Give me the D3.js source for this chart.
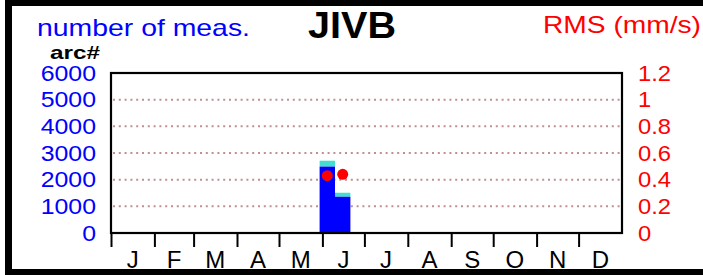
<!DOCTYPE html>
<html>
<head>
<meta charset="utf-8">
<script src="https://cdn.jsdelivr.net/npm/d3@7"></script>
<style>
    body { margin: 0; background: #fff; }
    svg { display: block; font-family: 'Liberation Sans', Arial, sans-serif; }
</style>
</head>
<body>
<svg id="chart" width="703" height="275"></svg>
<script>
    var months = ['J', 'F', 'M', 'A', 'M', 'J', 'J', 'A', 'S', 'O', 'N', 'D'];
    var binStarts = ['2001-05-30', '2001-06-10'];
    var binEnds = ['2001-06-10', '2001-06-21'];
    var usedCounts = [2490, 1360];
    var rejectedCounts = [220, 150];
    var rmsValues = [0.43, 0.44];
    var countTicks = [0, 1000, 2000, 3000, 4000, 5000, 6000];
    var rmsTicks = [0, 0.2, 0.4, 0.6, 0.8, 1, 1.2];
    var gridTicks = [1000, 2000, 3000, 4000, 5000];

    var margin = {left: 111, right: 622, top: 73, bottom: 233};
    var svg = d3.select('#chart');

    var x = d3.scaleUtc()
        .domain([new Date(Date.UTC(2001, 0, 1)), new Date(Date.UTC(2002, 0, 1))])
        .range([margin.left, margin.right]);
    var yCount = d3.scaleLinear().domain([0, 6000]).range([margin.bottom, margin.top]);
    var yRms = d3.scaleLinear().domain([0, 1.2]).range([margin.bottom, margin.top]);

    var bins = binStarts.map(function (s, i) {
        return {
            start: new Date(s + 'T00:00:00Z'),
            end: new Date(binEnds[i] + 'T00:00:00Z'),
            used: usedCounts[i],
            rejected: rejectedCounts[i],
            rms: rmsValues[i]
        };
    });

    // the original text is drawn a bit wider than Arial
    function stretch(sel, factor) {
        sel.each(function () {
            var w = this.getComputedTextLength();
            d3.select(this).attr('textLength', w * factor).attr('lengthAdjust', 'spacingAndGlyphs');
        });
    }

    // outer frame
    svg.append('rect')
        .attr('x', 8.5).attr('y', 2.5).attr('width', 703).attr('height', 270)
        .attr('fill', 'none').attr('stroke', '#000').attr('stroke-width', 7);

    // grid
    svg.append('g').selectAll('line').data(gridTicks).enter().append('line')
        .attr('x1', margin.left + 2).attr('x2', margin.right - 2)
        .attr('y1', function (d) { return yCount(d); })
        .attr('y2', function (d) { return yCount(d); })
        .attr('stroke', '#c09090').attr('stroke-width', 2)
        .attr('stroke-dasharray', '2,3.8');

    // bars: used + rejected stacked
    var bars = svg.append('g').selectAll('g').data(bins).enter().append('g');
    bars.append('rect')
        .attr('x', function (d) { return x(d.start); })
        .attr('width', function (d) { return x(d.end) - x(d.start); })
        .attr('y', function (d) { return yCount(d.used + d.rejected); })
        .attr('height', function (d) { return yCount(d.used) - yCount(d.used + d.rejected); })
        .attr('fill', '#40e0d0');
    bars.append('rect')
        .attr('x', function (d) { return x(d.start); })
        .attr('width', function (d) { return x(d.end) - x(d.start); })
        .attr('y', function (d) { return yCount(d.used); })
        .attr('height', function (d) { return yCount(0) - yCount(d.used); })
        .attr('fill', '#0000ff');

    // rms dots
    svg.append('g').selectAll('circle').data(bins).enter().append('circle')
        .attr('cx', function (d) { return (x(d.start) + x(d.end)) / 2; })
        .attr('cy', function (d) { return yRms(d.rms); })
        .attr('r', 5.5)
        .attr('fill', '#ff0000');

    // plot frame
    svg.append('rect')
        .attr('x', margin.left).attr('y', margin.top)
        .attr('width', margin.right - margin.left).attr('height', margin.bottom - margin.top)
        .attr('fill', 'none').attr('stroke', '#000').attr('stroke-width', 2.2);

    // month ticks
    var monthStarts = d3.utcMonths(x.domain()[0], x.domain()[1]);
    var monthAxis = d3.axisBottom(x)
        .tickValues(monthStarts)
        .tickSize(14)
        .tickFormat('');
    svg.append('g').attr('transform', 'translate(0,' + margin.bottom + ')').call(monthAxis)
        .call(function (g) {
            g.select('.domain').remove();
            g.selectAll('.tick line').attr('stroke', '#000').attr('stroke-width', 2);
        });

    // month labels centered in each month
    svg.append('g').selectAll('text').data(monthStarts).enter().append('text')
        .attr('x', function (d) { return (x(d) + x(d3.utcMonth.offset(d, 1))) / 2; })
        .attr('y', 268)
        .attr('text-anchor', 'middle')
        .attr('font-size', 24)
        .text(function (d, i) { return months[i]; });

    // left axis labels
    svg.append('g').attr('transform', 'translate(' + margin.left + ',0)')
        .call(d3.axisLeft(yCount).tickValues(countTicks).tickSize(0).tickPadding(15).tickFormat(d3.format('d')))
        .call(function (g) {
            g.select('.domain').remove();
            g.selectAll('text').attr('fill', '#0000ff').attr('font-size', 22).attr('font-family', null)
                .call(stretch, 1.13);
        });

    // right axis labels
    svg.append('g').attr('transform', 'translate(' + margin.right + ',0)')
        .call(d3.axisRight(yRms).tickValues(rmsTicks).tickSize(0).tickPadding(16).tickFormat(function (d) { return String(+d.toFixed(1)); }))
        .call(function (g) {
            g.select('.domain').remove();
            g.selectAll('text').attr('fill', '#ff0000').attr('font-size', 22).attr('font-family', null)
                .call(stretch, 1.08);
        });

    // titles
    svg.append('text').attr('x', 37).attr('y', 36)
        .attr('font-size', 24).attr('fill', '#0000ff')
        .attr('textLength', 213).attr('lengthAdjust', 'spacingAndGlyphs')
        .text('number of meas.');
    svg.append('text').attr('x', 50).attr('y', 59)
        .attr('font-size', 19).attr('font-weight', 'bold')
        .attr('textLength', 50).attr('lengthAdjust', 'spacingAndGlyphs')
        .text('arc#');
    svg.append('text').attr('x', 308).attr('y', 38)
        .attr('font-size', 36).attr('font-weight', 'bold')
        .attr('textLength', 88).attr('lengthAdjust', 'spacingAndGlyphs')
        .text('JIVB');
    svg.append('text').attr('x', 543).attr('y', 33)
        .attr('font-size', 24).attr('fill', '#ff0000')
        .attr('textLength', 158).attr('lengthAdjust', 'spacingAndGlyphs')
        .text('RMS (mm/s)');
</script>
</body>
</html>
